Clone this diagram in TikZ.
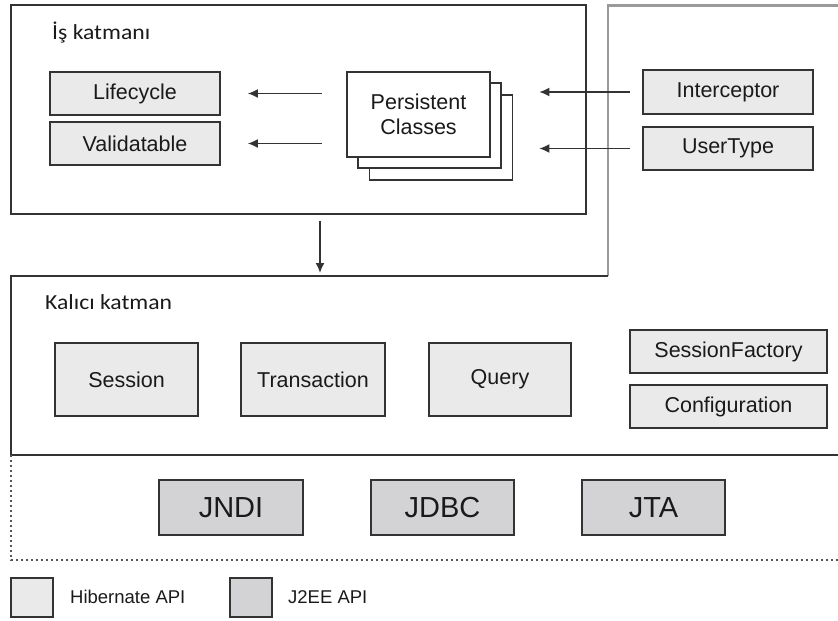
\documentclass[tikz,border=0pt]{standalone}
\usepackage{fontspec}
\setmainfont{Liberation Sans}
\newfontfamily\calib{Carlito}
\usetikzlibrary{arrows.meta}
\definecolor{hibfill}{HTML}{EAEAEA}
\definecolor{jeefill}{HTML}{D3D3D5}
\definecolor{linec}{HTML}{333333}
\definecolor{framec}{HTML}{9A9A9A}
\definecolor{dotc}{HTML}{555555}
\definecolor{txtc}{HTML}{1A1A1A}
\begin{document}
\begin{tikzpicture}[x=1pt,y=-1pt,
  box/.style={draw=linec, line width=1.7pt, rectangle, inner sep=0pt, font=\fontsize{21.5}{25}\selectfont, text=txtc},
  hib/.style={box, fill=hibfill},
  jee/.style={box, fill=jeefill, font=\fontsize{29}{32}\selectfont},
  stackbox/.style={box, fill=white, minimum width=143pt, minimum height=85pt, align=center},
  layerbox/.style={draw=linec, line width=1.8pt, rectangle, inner sep=0pt},
  layerline/.style={draw=linec, line width=1.8pt},
  frameline/.style={draw=framec, line width=2.4pt},
  dotline/.style={draw=dotc, line width=1.3pt, dash pattern=on 2pt off 3pt},
  arr/.style={draw=linec, line width=1.6pt, -{Latex[length=10pt,width=9pt]}},
  lbl/.style={font=\calib\fontsize{21.5}{24}\selectfont, anchor=base west, inner sep=0pt, text=txtc},
  legtext/.style={font=\fontsize{18.5}{20}\selectfont, anchor=west, inner sep=0pt, text=txtc},
]
\useasboundingbox (0,0) rectangle (838,621);

% grey outer frame
\draw[frameline] (608,276) -- (608,5.5) -- (838,5.5);

% business layer
\node[layerbox, minimum width=575pt, minimum height=209pt] (is) at (298.5,109.5) {};
\node[lbl] (islbl) at (52,39) {\scalebox{1.1}[1]{İş katmanı}};

\node[hib, minimum width=170pt, minimum height=43pt] (lc) at (135,93.5) {Lifecycle};
\node[hib, minimum width=170pt, minimum height=43pt] (va) at (135,143.5) {Validatable};

\node[stackbox] (pcback) at (441,137.5) {};
\node[stackbox] (pcmid) at (429.5,125.5) {};
\node[stackbox] (pc) at (418.5,114.5) {Persistent\\Classes};

\node[hib, minimum width=170pt, minimum height=44pt] (ic) at (728,92) {Interceptor};
\node[hib, minimum width=170pt, minimum height=43pt] (ut) at (728,148.5) {UserType};

\draw[arr, shorten <=24pt, shorten >=27pt] (pc.west |- lc) -- (lc.east);
\draw[arr, shorten <=24pt, shorten >=27pt] (pc.west |- va) -- (va.east);
\draw[arr, shorten <=12pt, shorten >=26pt] (ic.west) -- (ic.west -| pcback.east);
\draw[arr, shorten <=12pt, shorten >=26pt] (ut.west) -- (ut.west -| pcback.east);

% persistence layer
\draw[layerline] (608,276) -- (11,276) -- (11,455) -- (838,455);
\coordinate (kaltop) at (320,276);
\draw[arr, shorten <=6pt, shorten >=3pt] (is.south -| kaltop) -- (kaltop);
\node[lbl] (kallbl) at (45,309) {\scalebox{1.1}[1]{Kalıcı katman}};

\node[hib, minimum width=143pt, minimum height=73pt] (se) at (126.5,379.5) {Session};
\node[hib, minimum width=144pt, minimum height=73pt] (tr) at (313,379.5) {Transaction};
\node[hib, minimum width=142pt, minimum height=73pt] (qu) at (500,379.5) {Query};
\node[hib, minimum width=197pt, minimum height=43pt] (sf) at (728.5,351.5) {SessionFactory};
\node[hib, minimum width=197pt, minimum height=43pt] (cf) at (728.5,406.5) {Configuration};

% J2EE layer
\draw[dotline] (11,455) -- (11,560) -- (838,560);
\node[jee, minimum width=144pt, minimum height=55pt] (jndi) at (231,507.5) {JNDI};
\node[jee, minimum width=143pt, minimum height=55pt] (jdbc) at (442.5,507.5) {JDBC};
\node[jee, minimum width=143pt, minimum height=55pt] (jta) at (653.5,507.5) {JTA};

% legend
\node[hib, minimum width=42pt, minimum height=39pt] (leghib) at (32,597.5) {};
\node[legtext] (leghibt) at (70,597) {Hibernate API};
\node[jee, minimum width=42pt, minimum height=39pt] (legjee) at (251,597.5) {};
\node[legtext] (legjeet) at (288,597) {J2EE API};
\end{tikzpicture}
\end{document}
